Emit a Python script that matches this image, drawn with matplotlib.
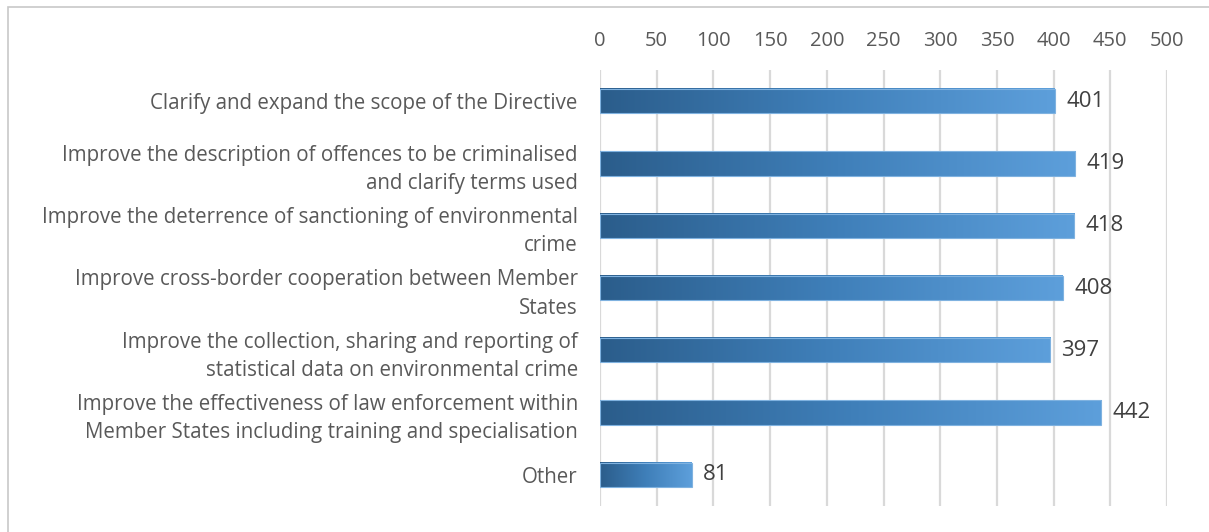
import numpy as np
import matplotlib.pyplot as plt
from matplotlib.colors import LinearSegmentedColormap
from matplotlib.patches import Rectangle

categories = [
    "Clarify and expand the scope of the Directive",
    "Improve the description of offences to be criminalised\nand clarify terms used",
    "Improve the deterrence of sanctioning of environmental\ncrime",
    "Improve cross-border cooperation between Member\nStates",
    "Improve the collection, sharing and reporting of\nstatistical data on environmental crime",
    "Improve the effectiveness of law enforcement within\nMember States including training and specialisation",
    "Other",
]
values = [401, 419, 418, 408, 397, 442, 81]
ticks = list(range(0, 501, 50))

plt.rcParams['font.family'] = ['Open Sans', 'DejaVu Sans']
grey = '#595959'

W, H = 1209, 532
fig = plt.figure(figsize=(W / 100, H / 100), dpi=100)
ax = fig.add_axes([600 / W, 1 - 506 / H, 567 / W, 436 / H])

cmap = LinearSegmentedColormap.from_list('bar', ['#2b5d8b', '#3f7fb9', '#5d9fdb'])
grad = np.linspace(0, 1, 256).reshape(1, -1)
bh = 0.39
for i, v in enumerate(values):
    ax.imshow(grad, cmap=cmap, aspect='auto', extent=[0, v, i + bh / 2, i - bh / 2],
              zorder=3, interpolation='bicubic')
    ax.add_patch(Rectangle((0, i - bh / 2), v, bh, fill=False, edgecolor='#7fb2e0',
                           linewidth=0.8, zorder=4))
    ax.text(v + 10, i, str(v), va='center', ha='left', fontsize=16, color='#404040')

ax.set_xlim(0, 500)
ax.set_ylim(len(values) - 0.5, -0.5)
ax.set_xticks(ticks)
ax.set_yticks(range(len(categories)))
ax.set_yticklabels(categories, fontsize=14.8, color=grey, ha='right', linespacing=1.45)
ax.xaxis.tick_top()
ax.tick_params(axis='x', length=0, labelsize=14.5, labelcolor=grey, pad=14)
ax.tick_params(axis='y', length=0, pad=16)
ax.grid(axis='x', color='#d9d9d9', linewidth=1.6, zorder=0)
for s in ax.spines.values():
    s.set_visible(False)

fig.patches.append(Rectangle((8 / W, -0.1), 1.2, 1 - 7 / H + 0.1, transform=fig.transFigure,
                             fill=False, edgecolor='#c8c8c8', linewidth=1.2))

fig.savefig('out.png', dpi=100)
